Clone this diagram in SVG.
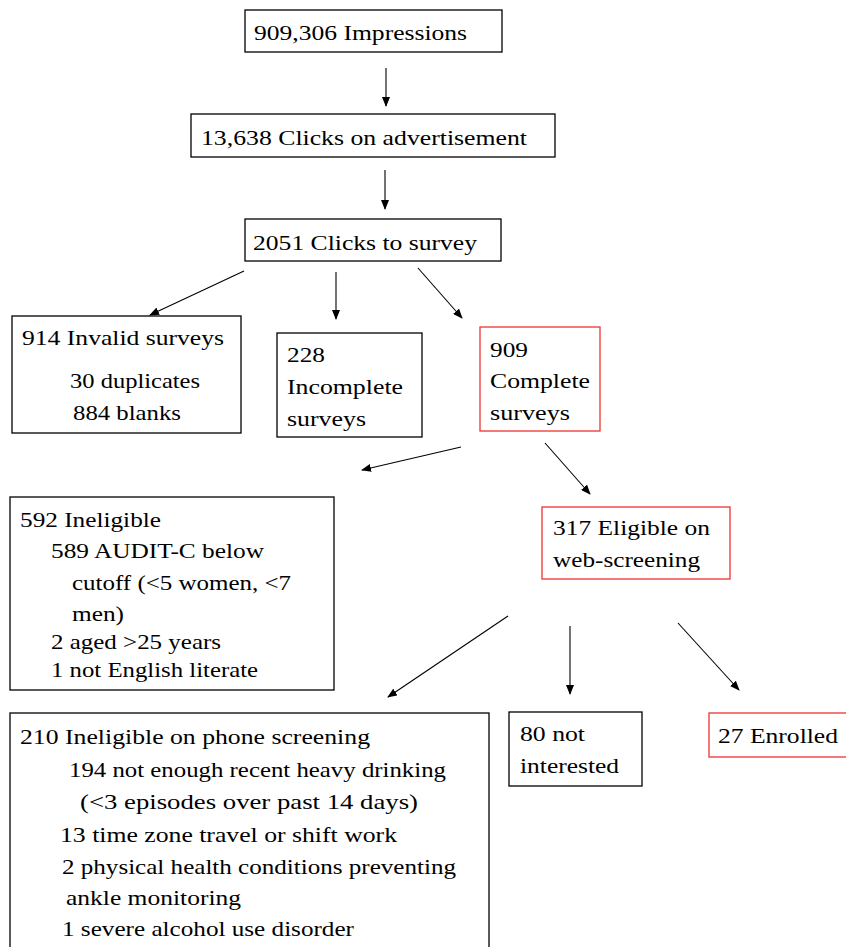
<svg xmlns="http://www.w3.org/2000/svg" width="846" height="947" viewBox="0 0 846 947">
<defs>
<marker id="ah" markerWidth="10" markerHeight="8" refX="9" refY="4" orient="auto" markerUnits="userSpaceOnUse">
<path d="M0,0 L10,4 L0,8 Z" fill="#000"/>
</marker>
<style>
.box{fill:#fff;stroke:#000;stroke-width:1.3}
.red{fill:#fff;stroke:#ee3333;stroke-width:1.3}
.t{font-size:22px;fill:#000}
.c line{stroke:#000;stroke-width:1.1;marker-end:url(#ah)}
</style>
</defs>
<rect width="846" height="947" fill="#fff"/>
<g class="c" id="connectors">
<line x1="386" y1="68" x2="386" y2="106"/>
<line x1="385" y1="170" x2="385" y2="209"/>
<line x1="244" y1="271" x2="150" y2="315"/>
<line x1="336" y1="272" x2="336" y2="319"/>
<line x1="418" y1="268" x2="462" y2="318"/>
<line x1="461" y1="447" x2="362" y2="470"/>
<line x1="545" y1="443" x2="590" y2="494"/>
<line x1="508" y1="616" x2="388" y2="697"/>
<line x1="570" y1="626" x2="570" y2="694"/>
<line x1="678" y1="623" x2="739" y2="690"/>
</g>
<g font-family="'Liberation Serif', 'DejaVu Serif', 'Times New Roman', serif">
<g id="n1"><rect class="box" x="245" y="10" width="257" height="42"/>
<text class="t" x="254" y="40" textLength="213" lengthAdjust="spacingAndGlyphs">909,306 Impressions</text></g>
<g id="n2"><rect class="box" x="191" y="114" width="364" height="43"/>
<text class="t" x="201" y="145" textLength="326" lengthAdjust="spacingAndGlyphs">13,638 Clicks on advertisement</text></g>
<g id="n3"><rect class="box" x="245" y="219" width="256" height="42"/>
<text class="t" x="253" y="250" textLength="224" lengthAdjust="spacingAndGlyphs">2051 Clicks to survey</text></g>
<g id="n4"><rect class="box" x="12" y="316" width="229" height="117"/>
<text class="t" x="22" y="345" textLength="202" lengthAdjust="spacingAndGlyphs">914 Invalid surveys</text>
<text class="t" x="70" y="388" textLength="130" lengthAdjust="spacingAndGlyphs">30 duplicates</text>
<text class="t" x="73" y="420" textLength="108" lengthAdjust="spacingAndGlyphs">884 blanks</text></g>
<g id="n5"><rect class="box" x="277" y="333" width="145" height="104"/>
<text class="t" x="287" y="362" textLength="38" lengthAdjust="spacingAndGlyphs">228</text>
<text class="t" x="287" y="394" textLength="116" lengthAdjust="spacingAndGlyphs">Incomplete</text>
<text class="t" x="287" y="426" textLength="79" lengthAdjust="spacingAndGlyphs">surveys</text></g>
<g id="n6"><rect class="red" x="480" y="327" width="120" height="104"/>
<text class="t" x="490" y="357" textLength="38" lengthAdjust="spacingAndGlyphs">909</text>
<text class="t" x="490" y="388" textLength="100" lengthAdjust="spacingAndGlyphs">Complete</text>
<text class="t" x="490" y="420" textLength="80" lengthAdjust="spacingAndGlyphs">surveys</text></g>
<g id="n7"><rect class="box" x="10" y="497" width="324" height="193"/>
<text class="t" x="20" y="527" textLength="141" lengthAdjust="spacingAndGlyphs">592 Ineligible</text>
<text class="t" x="51" y="558" textLength="213" lengthAdjust="spacingAndGlyphs">589 AUDIT-C  below</text>
<text class="t" x="72" y="590" textLength="219" lengthAdjust="spacingAndGlyphs">cutoff (&lt;5 women, &lt;7</text>
<text class="t" x="72" y="621" textLength="52" lengthAdjust="spacingAndGlyphs">men)</text>
<text class="t" x="51" y="649" textLength="170" lengthAdjust="spacingAndGlyphs">2 aged &gt;25  years</text>
<text class="t" x="51" y="677" textLength="207" lengthAdjust="spacingAndGlyphs">1 not English  literate</text></g>
<g id="n8"><rect class="red" x="542" y="507" width="188" height="72"/>
<text class="t" x="553" y="535" textLength="157" lengthAdjust="spacingAndGlyphs">317 Eligible  on</text>
<text class="t" x="553" y="567" textLength="147" lengthAdjust="spacingAndGlyphs">web-screening</text></g>
<g id="n9"><rect class="box" x="10" y="713" width="479" height="250"/>
<text class="t" x="20" y="744" textLength="350" lengthAdjust="spacingAndGlyphs">210 Ineligible  on phone screening</text>
<text class="t" x="69" y="777" textLength="377" lengthAdjust="spacingAndGlyphs">194 not enough recent heavy drinking</text>
<text class="t" x="80" y="809" textLength="338" lengthAdjust="spacingAndGlyphs">(&lt;3 episodes over past 14 days)</text>
<text class="t" x="60" y="842" textLength="337" lengthAdjust="spacingAndGlyphs">13 time zone travel or shift work</text>
<text class="t" x="62" y="874" textLength="394" lengthAdjust="spacingAndGlyphs">2 physical health conditions preventing</text>
<text class="t" x="66" y="905" textLength="175" lengthAdjust="spacingAndGlyphs">ankle monitoring</text>
<text class="t" x="62" y="936" textLength="292" lengthAdjust="spacingAndGlyphs">1 severe alcohol use disorder</text></g>
<g id="n10"><rect class="box" x="509" y="712" width="133" height="74"/>
<text class="t" x="520" y="741" textLength="65" lengthAdjust="spacingAndGlyphs">80 not</text>
<text class="t" x="520" y="773" textLength="99" lengthAdjust="spacingAndGlyphs">interested</text></g>
<g id="n11"><rect class="red" x="709" y="713" width="150" height="44"/>
<text class="t" x="718" y="743" textLength="120" lengthAdjust="spacingAndGlyphs">27 Enrolled</text></g>
</g>
</svg>
